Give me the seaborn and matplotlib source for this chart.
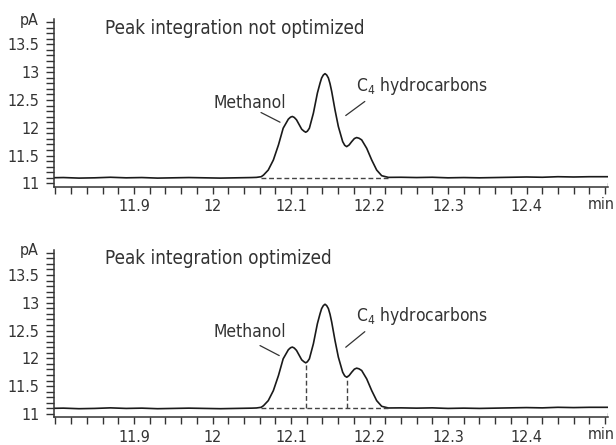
import matplotlib
matplotlib.use("Agg")
import matplotlib.pyplot as plt
from matplotlib.ticker import MultipleLocator, FixedLocator
import pandas as pd
import seaborn as sns

# chromatogram trace (time in min, signal in pA)
time_left = [11.79, 11.81, 11.83, 11.85, 11.87, 11.89, 11.91, 11.93, 11.95,
             11.97, 11.99, 12.01, 12.03, 12.05]
signal_left = [11.10, 11.105, 11.095, 11.10, 11.11, 11.10, 11.105, 11.095,
               11.10, 11.105, 11.10, 11.095, 11.10, 11.105]

time_peak = [12.056, 12.062, 12.065, 12.071, 12.0775, 12.084, 12.090, 12.0966,
             12.0994, 12.1017, 12.1042, 12.107, 12.1136, 12.1166, 12.1187,
             12.1208, 12.1234, 12.1285, 12.1336, 12.137, 12.139, 12.1412,
             12.1433, 12.1454, 12.1476, 12.1497, 12.1518, 12.156, 12.1603,
             12.1658, 12.1684, 12.1709, 12.174, 12.1773, 12.1807, 12.1836,
             12.1866, 12.19, 12.1964, 12.2028, 12.2091, 12.2155, 12.224]
signal_peak = [11.108, 11.12, 11.150, 11.240, 11.420, 11.691, 11.992, 12.155,
               12.191, 12.203, 12.185, 12.143, 11.974, 11.938, 11.920,
               11.938, 11.992, 12.263, 12.624, 12.804, 12.895, 12.949,
               12.973, 12.949, 12.895, 12.792, 12.654, 12.323, 12.022,
               11.751, 11.685, 11.661, 11.691, 11.751, 11.806, 11.824,
               11.812, 11.782, 11.631, 11.420, 11.240, 11.138, 11.108]

time_right = [12.24, 12.26, 12.28, 12.30, 12.32, 12.34, 12.36, 12.38, 12.40,
              12.42, 12.44, 12.46, 12.48, 12.50, 12.51]
signal_right = [11.11, 11.105, 11.11, 11.10, 11.105, 11.10, 11.105, 11.11,
                11.115, 11.11, 11.12, 11.115, 11.12, 11.12, 11.12]

# integration: valleys where the optimized run drops perpendiculars
valley_time = [12.1187, 12.1709]
valley_signal = [11.920, 11.661]
base_start, base_end, base_level = 12.062, 12.224, 11.105

titles = ["Peak integration not optimized", "Peak integration optimized"]
ytick_values = [11, 11.5, 12, 12.5, 13, 13.5]
ytick_labels = ["11", "11.5", "12", "12.5", "13", "13.5"]
xtick_values = [11.9, 12.0, 12.1, 12.2, 12.3, 12.4]
xtick_labels = ["11.9", "12", "12.1", "12.2", "12.3", "12.4"]

df = pd.DataFrame({
    "time": time_left + time_peak + time_right,
    "signal": signal_left + signal_peak + signal_right,
})

sns.set_style("ticks")
plt.rcParams["font.family"] = ["DejaVu Sans"]
plt.rcParams["font.stretch"] = "condensed"
plt.rcParams["mathtext.fontset"] = "custom"
plt.rcParams["mathtext.rm"] = "DejaVu Sans:stretch=condensed"
plt.rcParams["mathtext.it"] = "DejaVu Sans:stretch=condensed"

ink = "#333333"
fig = plt.figure(figsize=(6.16, 4.45), dpi=100)
ax_top = fig.add_axes([0.0869, 0.5804, 0.8994, 0.3762])
ax_bot = fig.add_axes([0.0869, 0.0622, 0.8994, 0.3762])

# label placement per panel (text x, text baseline y, line start, line end)
meth_pos = [(12.001, 12.354, (12.0618, 12.274), (12.086, 12.10)),
            (12.001, 12.39, (12.0605, 12.23), (12.085, 12.05))]
c4_pos = [(12.1824, 12.653, (12.194, 12.473), (12.1697, 12.22)),
          (12.1824, 12.678, (12.194, 12.48), (12.1697, 12.20))]

for i, ax in enumerate([ax_top, ax_bot]):
    sns.lineplot(data=df, x="time", y="signal", ax=ax, color="#1a1a1a",
                 linewidth=1.2, sort=False, estimator=None)
    ax.hlines(base_level, base_start, base_end, colors="#444444",
              linestyles=(0, (3.5, 2)), linewidth=1.0)
    if i == 1:
        ax.vlines(valley_time, base_level, valley_signal, colors="#444444",
                  linestyles=(0, (3.5, 2)), linewidth=1.0)

    ax.set_xlim(11.7975, 12.5032)
    ax.set_ylim(10.94, 13.95)
    ax.set_xlabel("")
    ax.set_ylabel("")
    sns.despine(ax=ax)
    for s in ["left", "bottom"]:
        ax.spines[s].set_color(ink)
        ax.spines[s].set_linewidth(1.1)

    ax.xaxis.set_major_locator(FixedLocator(xtick_values))
    ax.set_xticklabels(xtick_labels)
    ax.xaxis.set_minor_locator(MultipleLocator(0.02))
    ax.yaxis.set_major_locator(FixedLocator(ytick_values))
    ax.set_yticklabels(ytick_labels)
    ax.yaxis.set_minor_locator(MultipleLocator(0.1))
    ax.tick_params(which="both", direction="out", color=ink, width=1.0,
                   labelsize=11.5, labelcolor=ink)
    ax.tick_params(axis="x", which="both", length=5, pad=4)
    ax.tick_params(axis="y", which="both", length=6, pad=4)
    ax.axvline(12.5032, 0, 0.025, color=ink, linewidth=1.0)

    ax.text(-0.027, 0.995, "pA", transform=ax.transAxes, ha="right",
            va="center", fontsize=11.5, color=ink)
    ax.text(0.989, -0.105, "min", transform=ax.transAxes, ha="center",
            va="center", fontsize=11.5, color=ink)
    ax.text(0.0935, 0.915, titles[i], transform=ax.transAxes, ha="left",
            va="baseline", fontsize=13.5, color=ink)

    tx, ty, p0, p1 = meth_pos[i]
    ax.text(tx, ty, "Methanol", ha="left", va="baseline", fontsize=12.5,
            color=ink)
    ax.plot([p0[0], p1[0]], [p0[1], p1[1]], color=ink, linewidth=0.9)
    tx, ty, p0, p1 = c4_pos[i]
    ax.text(tx, ty, r"C$_\mathrm{4}$ hydrocarbons", ha="left",
            va="baseline", fontsize=12.5, color=ink)
    ax.plot([p0[0], p1[0]], [p0[1], p1[1]], color=ink, linewidth=0.9)

fig.savefig("out.png", dpi=100)
